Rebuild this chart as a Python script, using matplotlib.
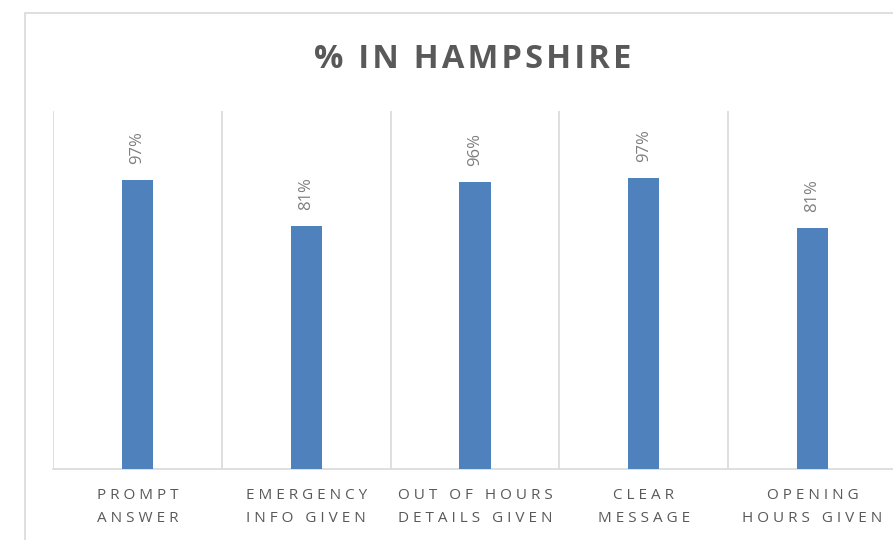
import matplotlib.pyplot as plt
from matplotlib.patches import Rectangle

# chart data
categories = ["PROMPT\nANSWER", "EMERGENCY\nINFO GIVEN", "OUT OF HOURS\nDETAILS GIVEN",
              "CLEAR\nMESSAGE", "OPENING\nHOURS GIVEN"]
values = [0.970, 0.813, 0.963, 0.974, 0.808]
title = "% IN HAMPSHIRE"

bar_color = "#4F81BD"
grid_color = "#D9D9D9"
text_color = "#595959"


def spaced(s, sep="\u2009"):
    # fake the letter spacing of the original chart
    return "\n".join(sep.join(line) for line in s.split("\n"))


plt.rcParams['font.family'] = ['Open Sans', 'DejaVu Sans']

fig = plt.figure(figsize=(8.93, 5.40), dpi=100)

# outer chart frame (runs off the right and bottom edge)
fig.patches.append(Rectangle((25 / 893, -0.2), 1.0, 1.2 - 13 / 540, transform=fig.transFigure,
                             fill=False, edgecolor="#D9D9D9", linewidth=1.2))

ax = fig.add_axes([53 / 893, 1 - 469 / 540, 844 / 893, 358 / 540])
x = list(range(len(categories)))
ax.bar(x, values, width=0.185, color=bar_color, zorder=3)

ax.set_xlim(-0.5, len(categories) - 0.5)
ax.set_ylim(0, 1.20)

# vertical separators between categories
for b in [i - 0.5 for i in range(len(categories) + 1)]:
    ax.axvline(b, color=grid_color, linewidth=1.2, zorder=1)

for s in ["top", "right", "left"]:
    ax.spines[s].set_visible(False)
ax.spines["bottom"].set_color(grid_color)
ax.spines["bottom"].set_linewidth(1.2)

ax.set_yticks([])
ax.set_xticks(x)
ax.set_xticklabels([spaced(c, " ") for c in categories], fontsize=11, color=text_color,
                   linespacing=1.65)
ax.tick_params(axis="x", length=0, pad=14)

for xi, v in zip(x, values):
    ax.annotate(f"{v:.0%}", xy=(xi, v), xytext=(0, 11.5), textcoords="offset points",
                rotation=90, ha="center", va="bottom", fontsize=12, color="#7F7F7F")

fig.text(473 / 893, 1 - 60 / 540, spaced(title, "\u200a"), ha="center", va="center",
         fontsize=23.5, fontweight="bold", color=text_color)

fig.savefig("out.png", dpi=100)
